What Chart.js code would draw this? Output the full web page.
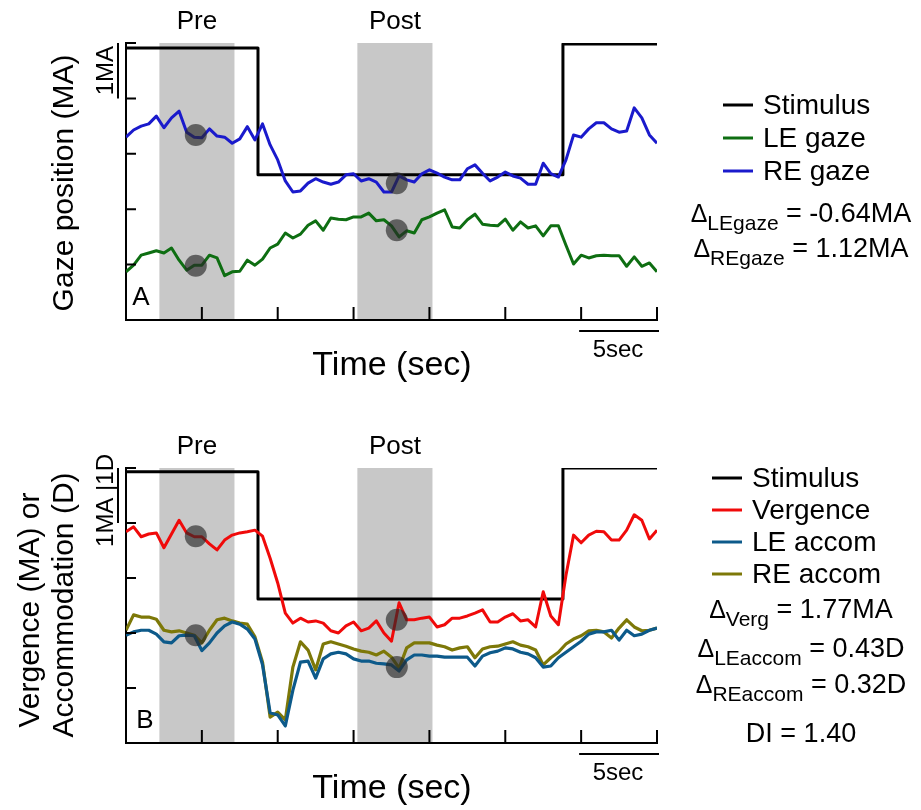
<!DOCTYPE html>
<html>
<head>
<meta charset="utf-8">
<script src="https://cdn.jsdelivr.net/npm/chart.js@4.4.1/dist/chart.umd.min.js"></script>
<style>
    html, body { margin: 0; padding: 0; background: #fff; }
    #wrap { position: relative; width: 921px; height: 810px; }
    canvas { position: absolute; left: 0; }
    #panelA { top: 0; }
    #panelB { top: 405px; }
</style>
</head>
<body>
<div id="wrap">
    <canvas id="panelA" width="921" height="405"></canvas>
    <canvas id="panelB" width="921" height="405"></canvas>
</div>
<script>
// time base (sec) shared by all traces
const timeSec = [
    0, 0.5, 1, 1.5, 2, 2.5, 3, 3.5, 4, 4.5,
    5, 5.5, 6, 6.5, 7, 7.5, 8, 8.5, 9, 9.5,
    10, 10.5, 11, 11.5, 12, 12.5, 13, 13.5, 14, 14.5,
    15, 15.5, 16, 16.5, 17, 17.5, 18, 18.5, 19, 19.5,
    20, 20.5, 21, 21.5, 22, 22.5, 23, 23.5, 24, 24.5,
    25, 25.5, 26, 26.5, 27, 27.5, 28, 28.5, 29, 29.5,
    30, 30.5, 31, 31.5, 32, 32.5, 33, 33.5, 34, 34.5,
    35
];

// Panel A: gaze position (MA, arbitrary offset)
const reGaze = [
    3.30, 3.43, 3.50, 3.54, 3.68, 3.47, 3.65, 3.77, 3.39, 3.30,
    3.29, 3.45, 3.32, 3.30, 3.19, 3.27, 3.49, 3.25, 3.54, 3.16,
    2.89, 2.51, 2.31, 2.33, 2.47, 2.55, 2.49, 2.45, 2.49, 2.62,
    2.64, 2.51, 2.55, 2.49, 2.31, 2.31, 2.60, 2.53, 2.49, 2.64,
    2.71, 2.65, 2.58, 2.53, 2.53, 2.73, 2.80, 2.65, 2.51, 2.58,
    2.67, 2.60, 2.56, 2.45, 2.45, 2.83, 2.64, 2.58, 2.89, 3.34,
    3.30, 3.45, 3.56, 3.56, 3.45, 3.39, 3.41, 3.83, 3.65, 3.34,
    3.19
];
const leGaze = [
    0.87, 0.99, 1.17, 1.21, 1.25, 1.21, 1.30, 1.08, 0.90, 0.99,
    0.99, 1.17, 1.12, 0.80, 0.87, 0.88, 1.08, 0.99, 1.10, 1.30,
    1.37, 1.57, 1.48, 1.55, 1.71, 1.79, 1.62, 1.84, 1.82, 1.81,
    1.86, 1.86, 1.93, 1.79, 1.81, 1.70, 1.50, 1.61, 1.57, 1.81,
    1.86, 1.93, 1.99, 1.68, 1.66, 1.81, 1.91, 1.73, 1.71, 1.70,
    1.82, 1.62, 1.77, 1.66, 1.70, 1.52, 1.70, 1.70, 1.35, 1.01,
    1.17, 1.12, 1.16, 1.17, 1.16, 1.16, 0.97, 1.14, 0.97, 1.03,
    0.87
];

// Panel B: vergence (MA) and accommodation (D)
const vergence = [
    3.84, 3.93, 3.75, 3.80, 3.82, 3.55, 3.80, 4.05, 3.82, 3.75,
    3.75, 3.62, 3.51, 3.69, 3.78, 3.82, 3.84, 3.87, 3.76, 3.36,
    2.91, 2.36, 2.18, 2.27, 2.20, 2.22, 2.18, 2.04, 2.00, 2.13,
    2.20, 2.04, 2.09, 2.22, 2.00, 1.85, 2.55, 2.24, 2.24, 2.27,
    2.29, 2.11, 2.15, 2.27, 2.27, 2.31, 2.36, 2.42, 2.20, 2.20,
    2.29, 2.35, 2.22, 2.24, 2.11, 2.75, 2.31, 2.15, 3.05, 3.78,
    3.64, 3.78, 3.85, 3.84, 3.69, 3.69, 3.87, 4.15, 4.05, 3.71,
    3.87
];
const leAccom = [
    1.96, 2.02, 2.05, 2.05, 1.98, 1.84, 1.82, 1.95, 1.96, 1.95,
    1.68, 1.82, 2.00, 2.13, 2.20, 2.16, 2.07, 1.89, 1.42, 0.55,
    0.51, 0.31, 0.96, 1.47, 1.49, 1.18, 1.53, 1.62, 1.65, 1.62,
    1.53, 1.49, 1.49, 1.45, 1.44, 1.42, 1.31, 1.51, 1.60, 1.60,
    1.58, 1.58, 1.56, 1.56, 1.56, 1.56, 1.40, 1.58, 1.64, 1.67,
    1.73, 1.71, 1.65, 1.62, 1.55, 1.38, 1.40, 1.55, 1.65, 1.75,
    1.85, 1.98, 2.02, 2.02, 2.05, 1.87, 2.05, 1.95, 1.98, 2.05,
    2.09
];
const reAccom = [
    2.05, 2.33, 2.29, 2.29, 2.25, 2.05, 2.02, 2.04, 2.00, 1.96,
    1.82, 2.05, 2.24, 2.27, 2.22, 2.18, 2.16, 1.93, 1.47, 0.47,
    0.56, 0.42, 1.38, 1.84, 1.69, 1.33, 1.80, 1.84, 1.80, 1.76,
    1.71, 1.67, 1.65, 1.60, 1.67, 1.56, 1.36, 1.73, 1.82, 1.82,
    1.82, 1.78, 1.75, 1.69, 1.73, 1.75, 1.55, 1.71, 1.75, 1.76,
    1.80, 1.84, 1.78, 1.75, 1.69, 1.42, 1.55, 1.65, 1.80, 1.89,
    1.95, 2.04, 2.05, 2.02, 1.91, 2.09, 2.24, 2.11, 2.04, 2.05,
    2.09
];

// step stimulus
const stimTime = [0, 8.7, 8.7, 28.8, 28.8, 35];
const stimA = [4.91, 4.91, 2.62, 2.62, 4.98, 4.98];
const stimB = [4.93, 4.93, 2.62, 2.62, 5.0, 5.0];

// pre / post analysis windows (sec)
const preWin = [2.2, 7.15];
const postWin = [15.25, 20.2];

// averaged sample markers
const markTime = [4.6, 4.6, 17.85, 17.85];
const markA = [3.34, 0.98, 2.47, 1.62];
const markB = [3.76, 1.96, 2.24, 1.38];

const FONT = '"Liberation Sans", Arial, Helvetica, sans-serif';

const pts = (xs, ys) => xs.map((x, i) => ({ x, y: ys[i] }));

function lineSet(label, xs, ys, color, width, order) {
    return {
        label, data: pts(xs, ys), borderColor: color, borderWidth: width,
        pointRadius: 0, tension: 0, fill: false, order,
        borderJoinStyle: 'round', borderCapStyle: 'butt'
    };
}

function markSet(ys) {
    return {
        type: 'scatter', label: 'marks', data: pts(markTime, ys), showLine: false,
        pointRadius: 11, pointBackgroundColor: 'rgba(40,40,40,0.65)',
        pointBorderWidth: 0, order: 0
    };
}

function text(ctx, str, x, y, size, rot) {
    ctx.save();
    ctx.font = `${size}px ${FONT}`;
    ctx.fillStyle = '#000';
    ctx.textAlign = 'center';
    ctx.textBaseline = rot ? 'alphabetic' : 'middle';
    ctx.translate(x, y);
    if (rot) ctx.rotate(-Math.PI / 2);
    ctx.fillText(str, 0, 0);
    ctx.restore();
}

function deltaLine(ctx, cx, y, sub, rest) {
    ctx.save();
    ctx.fillStyle = '#000';
    ctx.textBaseline = 'alphabetic';
    ctx.textAlign = 'left';
    const sym = `25px ${FONT}`, small = `21px ${FONT}`, big = `27px ${FONT}`;
    ctx.font = sym; const w0 = ctx.measureText('\u0394').width;
    ctx.font = small; const w1 = ctx.measureText(sub).width;
    ctx.font = big; const w2 = ctx.measureText(rest).width;
    let x = cx - (w0 + w1 + w2) / 2;
    ctx.font = sym; ctx.fillText('\u0394', x, y); x += w0;
    ctx.font = small; ctx.fillText(sub, x, y + 8); x += w1;
    ctx.font = big; ctx.fillText(rest, x, y);
    ctx.restore();
}

const shading = {
    id: 'shading',
    beforeDraw(chart) {
        const { ctx, chartArea: a, scales: { x } } = chart;
        ctx.save();
        ctx.fillStyle = '#c8c8c8';
        [preWin, postWin].forEach(([s, e]) => {
            const x0 = x.getPixelForValue(s), x1 = x.getPixelForValue(e);
            ctx.fillRect(x0, a.top, x1 - x0, a.bottom - a.top);
        });
        ctx.restore();
    }
};

// inward ticks, scale bars and all the annotation text
const decor = {
    id: 'decor',
    afterDraw(chart, args, o) {
        const { ctx, chartArea: a, scales: { x, y } } = chart;
        ctx.save();
        ctx.strokeStyle = '#000';
        ctx.lineWidth = 2;
        ctx.beginPath();
        x.ticks.forEach(t => {
            const px = x.getPixelForValue(t.value);
            ctx.moveTo(px, a.bottom); ctx.lineTo(px, a.bottom - 13);
        });
        y.ticks.forEach(t => {
            const py = y.getPixelForValue(t.value);
            ctx.moveTo(a.left, py); ctx.lineTo(a.left + 10, py);
        });
        // 1 unit bar
        ctx.moveTo(118, y.getPixelForValue(5)); ctx.lineTo(118, y.getPixelForValue(4));
        // 5 sec bar
        ctx.moveTo(x.getPixelForValue(30) - 2, a.bottom + 11);
        ctx.lineTo(x.getPixelForValue(35) + 2, a.bottom + 11);
        ctx.stroke();

        // legend
        o.legend.forEach(([label, color], i) => {
            const ly = o.legendY + i * o.legendStep;
            ctx.strokeStyle = color;
            ctx.lineWidth = 3;
            ctx.beginPath();
            ctx.moveTo(o.legendX, ly); ctx.lineTo(o.legendX + 30, ly);
            ctx.stroke();
            ctx.font = `28px ${FONT}`;
            ctx.fillStyle = '#000';
            ctx.textAlign = 'left';
            ctx.textBaseline = 'middle';
            ctx.fillText(label, o.legendX + 40, ly + 1);
        });
        ctx.restore();

        o.deltas.forEach(([sub, rest, by]) => deltaLine(ctx, 801, by, sub, rest));
        if (o.extra) {
            ctx.save();
            ctx.font = `27px ${FONT}`;
            ctx.fillStyle = '#000';
            ctx.textAlign = 'center';
            ctx.textBaseline = 'alphabetic';
            ctx.fillText(o.extra[0], 801, o.extra[1]);
            ctx.restore();
        }

        const top = a.top, bot = a.bottom;
        text(ctx, 'Pre', x.getPixelForValue((preWin[0] + preWin[1]) / 2), top - 21, 26);
        text(ctx, 'Post', x.getPixelForValue((postWin[0] + postWin[1]) / 2), top - 21, 26);
        text(ctx, o.letter, o.letterX, bot - 22, 26);
        text(ctx, 'Time (sec)', 392, bot + 46, 34);
        text(ctx, '5sec', 618, bot + 30, 24);
        text(ctx, o.barLabel, 113, (y.getPixelForValue(5) + y.getPixelForValue(4)) / 2 + (o.barShift || 0), 24, true);
        o.yTitle.forEach(([str, bx, cy]) => text(ctx, str, bx, cy, 30, true));
    }
};

function makePanel(id, datasets, pad, deco) {
    return new Chart(document.getElementById(id), {
        type: 'line',
        data: { datasets },
        options: {
            responsive: false,
            animation: false,
            events: [],
            layout: { padding: pad },
            plugins: { legend: { display: false }, tooltip: { enabled: false }, decor: deco },
            scales: {
                x: {
                    type: 'linear', min: 0, max: 35,
                    ticks: { stepSize: 5, display: false },
                    grid: { display: false, drawTicks: false },
                    border: { color: '#000', width: 2 },
                    afterFit(s) { s.height = 0; }
                },
                y: {
                    min: 0, max: 5,
                    ticks: { stepSize: 1, display: false },
                    grid: { display: false, drawTicks: false },
                    border: { color: '#000', width: 2 },
                    afterFit(s) { s.width = 0; }
                }
            }
        },
        plugins: [shading, decor]
    });
}

const cStim = '#000000', cLE = '#0e6e12', cRE = '#1a1acc';
const cVerg = '#f00a0a', cLEacc = '#0d5a8a', cREacc = '#7d7808';

makePanel('panelA', [
    markSet(markA),
    lineSet('RE gaze', timeSec, reGaze, cRE, 3, 1),
    lineSet('LE gaze', timeSec, leGaze, cLE, 3, 2),
    lineSet('Stimulus', stimTime, stimA, cStim, 3, 3)
], { top: 43, left: 126, right: 264, bottom: 85 }, {
    legend: [['Stimulus', cStim], ['LE gaze', cLE], ['RE gaze', cRE]],
    legendX: 723, legendY: 105, legendStep: 33,
    deltas: [['LEgaze', ' = -0.64MA', 222], ['REgaze', ' = 1.12MA', 257]],
    letter: 'A', letterX: 141,
    barLabel: '1MA',
    yTitle: [['Gaze position (MA)', 73, 183]]
});

makePanel('panelB', [
    markSet(markB),
    lineSet('Vergence', timeSec, vergence, cVerg, 3, 1),
    lineSet('LE accom', timeSec, leAccom, cLEacc, 3.2, 2),
    lineSet('RE accom', timeSec, reAccom, cREacc, 3.2, 3),
    lineSet('Stimulus', stimTime, stimB, cStim, 3, 4)
], { top: 63, left: 126, right: 264, bottom: 67 }, {
    legend: [['Stimulus', cStim], ['Vergence', cVerg], ['LE accom', cLEacc], ['RE accom', cREacc]],
    legendX: 712, legendY: 73, legendStep: 32,
    deltas: [['Verg', ' = 1.77MA', 213], ['LEaccom', ' = 0.43D', 252], ['REaccom', ' = 0.32D', 288]],
    extra: ['DI = 1.40', 337],
    letter: 'B', letterX: 145,
    barLabel: '1MA |1D', barShift: 5,
    yTitle: [['Vergence (MA) or', 39, 205], ['Accommodation (D)', 73, 200]]
});
</script>
</body>
</html>
